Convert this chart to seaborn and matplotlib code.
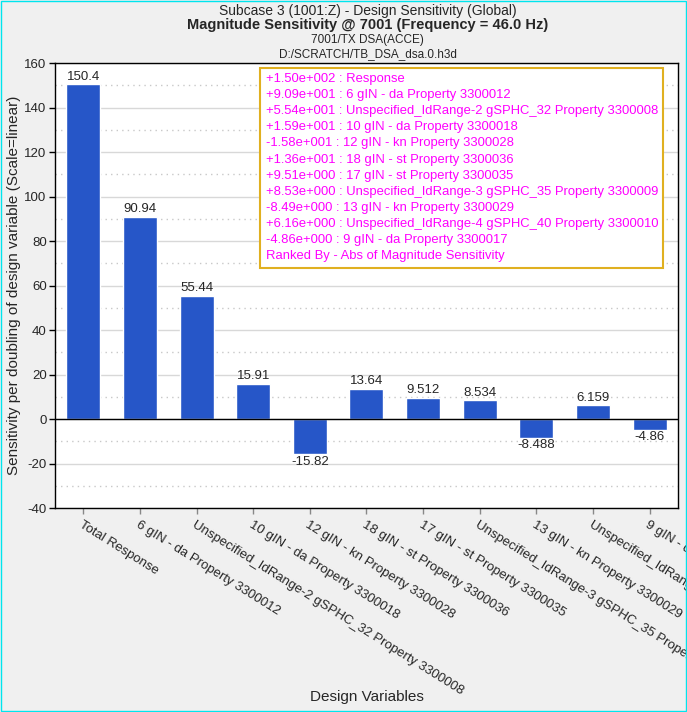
import matplotlib
matplotlib.use("Agg")
import matplotlib.pyplot as plt
from matplotlib.patches import Rectangle
from matplotlib.ticker import MultipleLocator
import pandas as pd
import seaborn as sns

sns.set_theme(style="white")
plt.rcParams["font.family"] = ["Liberation Sans", "DejaVu Sans"]
plt.rcParams["axes.unicode_minus"] = False

CATEGORIES = [
    "Total Response",
    "6 gIN - da Property 3300012",
    "Unspecified_IdRange-2 gSPHC_32 Property 3300008",
    "10 gIN - da Property 3300018",
    "12 gIN - kn Property 3300028",
    "18 gIN - st Property 3300036",
    "17 gIN - st Property 3300035",
    "Unspecified_IdRange-3 gSPHC_35 Property 3300009",
    "13 gIN - kn Property 3300029",
    "Unspecified_IdRange-4 gSPHC_40 Property 3300010",
    "9 gIN - da Property 3300017",
]
VALUES = [150.4, 90.94, 55.44, 15.91, -15.82, 13.64, 9.512, 8.534, -8.488, 6.159, -4.86]
VALUE_LABELS = ["150.4", "90.94", "55.44", "15.91", "-15.82", "13.64", "9.512",
                "8.534", "-8.488", "6.159", "-4.86"]
LEGEND_NAMES = ["Response"] + CATEGORIES[1:]

BAR_COLOR = "#2656c8"
TEXT_MAGENTA = "#ff00ff"


def sci3(v: float) -> str:
    mant, exp = f"{v:+.2e}".split("e")
    return f"{mant}e{int(exp):+04d}"


df = pd.DataFrame({"variable": CATEGORIES, "sensitivity": VALUES})

fig = plt.figure(figsize=(6.87, 7.12), dpi=100, facecolor="#f0f0f0")
fig.patches.append(Rectangle((0.001, 0.001), 0.998, 0.998, transform=fig.transFigure,
                             fill=False, edgecolor="#00e5ee", linewidth=1))
ax = fig.add_axes([0.080, 0.2865, 0.9069, 0.625])
ax.set_facecolor("white")

sns.barplot(data=df, x="variable", y="sensitivity", order=CATEGORIES,
            color=BAR_COLOR, saturation=1, width=0.6, ax=ax, zorder=3)
ax.bar_label(ax.containers[0], labels=VALUE_LABELS, padding=1, fontsize=9.5)

ax.set_xlim(-0.5, 10.5)
ax.set_ylim(-40, 160)
ax.yaxis.set_major_locator(MultipleLocator(20))
ax.yaxis.set_minor_locator(MultipleLocator(10))
ax.grid(which="major", axis="y", color="#d8d8d8", linewidth=1, zorder=0)
ax.grid(which="minor", axis="y", color="#c8c8c8", linewidth=1, linestyle=(0, (1, 3)), zorder=0)
ax.axhline(0, color="black", linewidth=1, zorder=4)
for s in ax.spines.values():
    s.set_color("black")
    s.set_linewidth(1)

ax.tick_params(axis="y", which="major", left=True, length=4, width=1, color="black",
               labelsize=9.5, pad=2)
ax.tick_params(axis="y", which="minor", left=False)
ax.tick_params(axis="x", bottom=True, length=4, width=1, color="#888888", labelsize=9.5)
ax.set_xticks(range(len(CATEGORIES)))
ax.set_xticklabels(CATEGORIES, rotation=-32, ha="left", va="top", rotation_mode="anchor")

ax.set_xlabel("Design Variables", fontsize=11, labelpad=0)
ax.xaxis.set_label_coords(0.5, -0.41)
ax.set_ylabel("Sensitivity per doubling of design variable (Scale=linear)", fontsize=11)
ax.yaxis.set_label_coords(-0.054, 0.5)

legend_lines = [f"{sci3(v)} : {n}" for v, n in zip(VALUES, LEGEND_NAMES)]
legend_lines.append("Ranked By - Abs of Magnitude Sensitivity")
ax.text(0.338, 0.978, "\n".join(legend_lines), transform=ax.transAxes, ha="left", va="top",
        color=TEXT_MAGENTA, fontsize=9.4, linespacing=1.46, zorder=6,
        bbox=dict(boxstyle="square,pad=0.4", facecolor="white", edgecolor="#e0b020", linewidth=1.5))

cx = 0.535
fig.text(cx, 1 - 11 / 712, "Subcase 3 (1001:Z) - Design Sensitivity (Global)", ha="center", va="center", fontsize=10)
fig.text(cx, 1 - 25 / 712, "Magnitude Sensitivity @ 7001 (Frequency = 46.0 Hz)", ha="center", va="center",
         fontsize=10.5, fontweight="bold")
fig.text(cx, 1 - 40 / 712, "7001/TX DSA(ACCE)", ha="center", va="center", fontsize=8.5)
fig.text(cx, 1 - 54 / 712, "D:/SCRATCH/TB_DSA_dsa.0.h3d", ha="center", va="center", fontsize=8.5)

fig.savefig("out.png", dpi=100, facecolor=fig.get_facecolor())
